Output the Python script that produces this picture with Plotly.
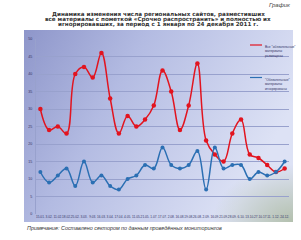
import base64
import plotly.graph_objects as go

dates = ["15.01.", "3.02.", "11.02.", "18.02.", "25.02.", "3.03.", "9.03.", "16.03.",
         "3.04.", "17.04.", "4.05.", "11.05.", "21.05.", "1.07.", "17.07.", "2.08.",
         "16.08.", "19.08.", "26.08.", "2.09.", "16.09.", "21.09.", "28.09.", "6.10.",
         "13.10.", "27.10.", "17.11.", "1.12.", "24.12."]
all_posted = [30, 24, 25, 23, 40, 42, 39, 46, 33, 23, 28, 25, 27, 31, 41, 35,
              24, 31, 43, 21, 17, 15, 23, 27, 17, 16, 14, 12, 13]
all_ignored = [12, 9, 11, 13, 8, 15, 9, 11, 8, 7, 10, 11, 14, 13, 19, 14,
               13, 14, 18, 7, 19, 13, 14, 14, 10, 12, 11, 12, 15]
y_ticks = [0, 5, 10, 15, 20, 25, 30, 35, 40, 45, 50]

W, H = 301, 240
L, R, T, B = 36, 12, 39, 26
PW, PH = W - L - R, H - T - B


def px(x):
    return (x - L) / PW


def py(y):
    return (H - B - y) / PH


svg = ('<svg xmlns="http://www.w3.org/2000/svg" width="269" height="192" viewBox="0 0 269 192" '
       'preserveAspectRatio="none"><defs>'
       '<linearGradient id="g" x1="0" y1="0" x2="1" y2="0.4">'
       '<stop offset="0" stop-color="#8e96ca"/><stop offset="0.4" stop-color="#b3bbe2"/>'
       '<stop offset="1" stop-color="#dde2f5"/></linearGradient>'
       '<radialGradient id="r" cx="1" cy="1" r="0.3">'
       '<stop offset="0" stop-color="#a9b89c" stop-opacity="0.8"/>'
       '<stop offset="1" stop-color="#a9b89c" stop-opacity="0"/></radialGradient></defs>'
       '<rect width="269" height="192" fill="url(#g)"/>'
       '<rect width="269" height="192" fill="url(#r)"/></svg>')
src = "data:image/svg+xml;base64," + base64.b64encode(svg.encode()).decode()

red = "#e2141f"
blue = "#2b6fb3"

fig = go.Figure()
fig.add_trace(go.Scatter(x=dates, y=all_posted, mode="lines+markers",
                         line=dict(color=red, width=1.5, shape="spline", smoothing=1.1),
                         marker=dict(color=red, size=4.5), showlegend=False))
fig.add_trace(go.Scatter(x=dates, y=all_ignored, mode="lines+markers",
                         line=dict(color=blue, width=1.5, shape="spline", smoothing=1.1),
                         marker=dict(color=blue, size=4), showlegend=False))

fig.update_layout(
    width=W, height=H,
    margin=dict(l=L, r=R, t=T, b=B, pad=0),
    paper_bgcolor="white", plot_bgcolor="rgba(0,0,0,0)",
    xaxis=dict(type="category", range=[-0.5, len(dates) - 0.5], showgrid=False,
               tickfont=dict(size=3.2, color="#333366", family="Liberation Sans"),
               tickangle=0, ticks="", zeroline=False, showline=False),
    yaxis=dict(range=[0, 50], tickvals=y_ticks, showgrid=True, gridcolor="#98a1cd",
               gridwidth=0.8, zeroline=False, showline=True, linecolor="#98a1cd",
               tickfont=dict(size=3.6, color="#333366", family="Liberation Sans"),
               ticks="", ticklabelstandoff=2),
    images=[dict(source=src, xref="paper", yref="paper", x=px(24), y=py(30),
                 sizex=269 / PW, sizey=192 / PH, xanchor="left", yanchor="top",
                 sizing="stretch", layer="below")],
)

title_lines = ["Динамика изменения числа региональных сайтов, разместивших",
               "все материалы с пометкой «Срочно распространить» и полностью их",
               "игнорировавших, за период с 1 января по 24 декабря 2011 г."]
for txt, yy in zip(title_lines, [14, 19.5, 25]):
    fig.add_annotation(text="<b>" + txt + "</b>", x=px(158), y=py(yy), xref="paper", yref="paper",
                       showarrow=False, xanchor="center", yanchor="middle",
                       font=dict(size=5.6, color="#333333", family="DejaVu Sans"))

fig.add_annotation(text="<i>График</i>", x=px(293), y=py(4.5), xref="paper", yref="paper",
                   showarrow=False, xanchor="right", yanchor="middle",
                   font=dict(size=6, color="#444444", family="Liberation Sans"))
fig.add_annotation(text="<i>Примечание: Составлено сектором по данным проведённых мониторингов</i>",
                   x=px(25), y=py(228), xref="paper", yref="paper", showarrow=False,
                   xanchor="left", yanchor="middle",
                   font=dict(size=5.4, color="#333333", family="Liberation Sans"))

legend = [(red, ['Все "обязательные"', "материалы", "размещены"], 45),
          (blue, ['"Обязательные"', "материалы", "игнорированы"], 77.5)]
for col, lines, yy in legend:
    fig.add_shape(type="line", xref="paper", yref="paper", x0=px(250), x1=px(262),
                  y0=py(yy), y1=py(yy), line=dict(color=col, width=1.2))
    fig.add_annotation(text="<br>".join(lines), x=px(263), y=py(yy - 2), xref="paper", yref="paper",
                       showarrow=False, xanchor="left", yanchor="top", align="left",
                       font=dict(size=3.3, color="#333366", family="Liberation Sans"))

fig.write_html("out.html")
